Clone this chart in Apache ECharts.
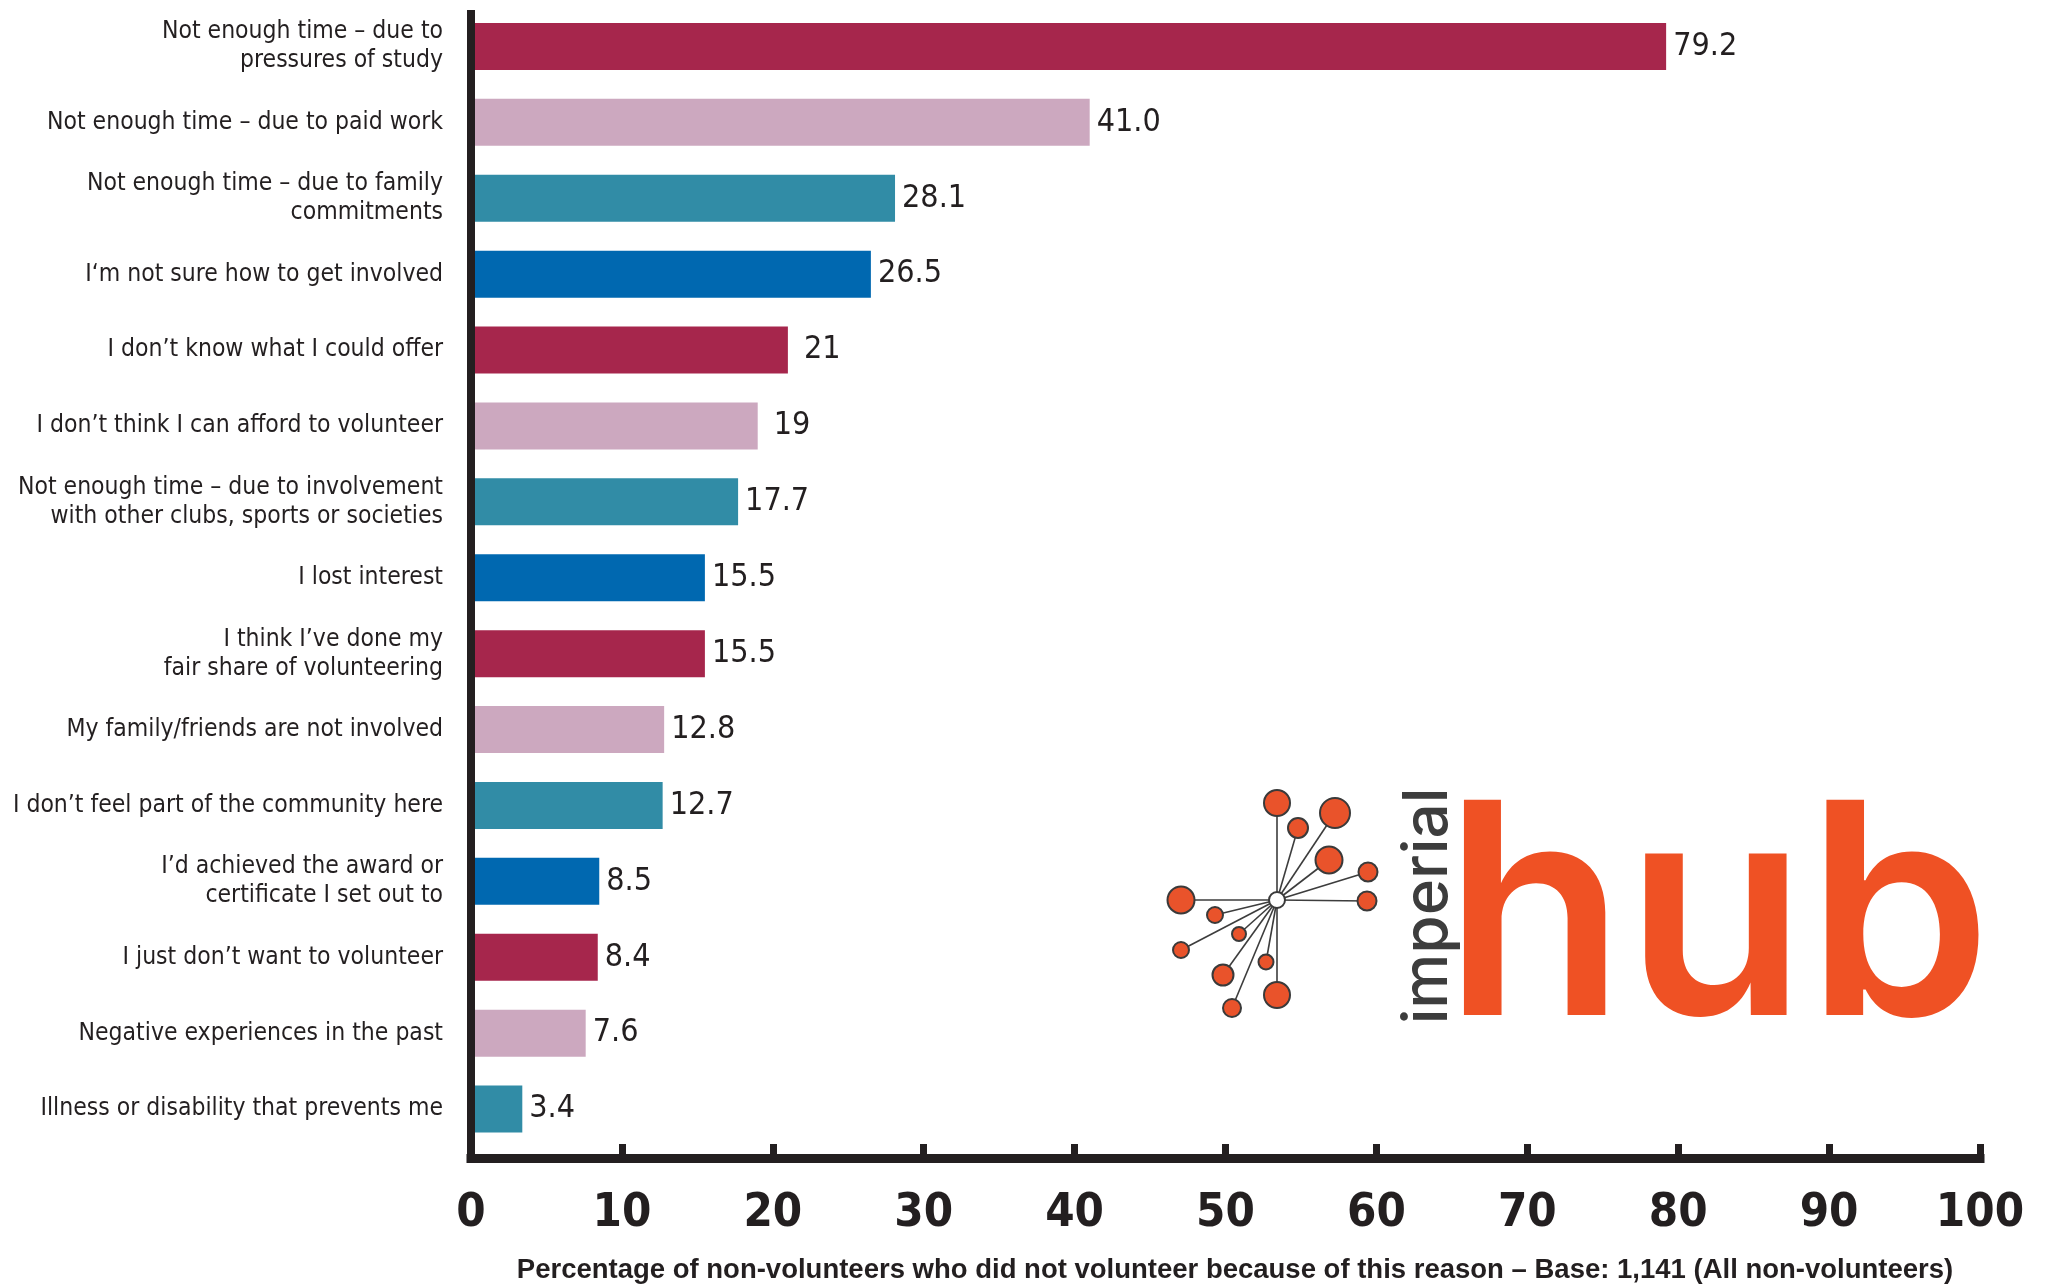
<!DOCTYPE html>
<html>
<head>
<meta charset="utf-8">
<script src="https://cdn.jsdelivr.net/npm/echarts@6/dist/echarts.min.js"></script>
<style>
html,body{margin:0;padding:0;background:#fff;}
#chart{width:2048px;height:1287px;}
</style>
</head>
<body>
<div id="chart"></div>
<script>
// ---- data ----
const categories = [
  'Not enough time – due to\npressures of study',
  'Not enough time – due to paid work',
  'Not enough time – due to family\ncommitments',
  'I‘m not sure how to get involved',
  'I don’t know what I could offer',
  'I don’t think I can afford to volunteer',
  'Not enough time – due to involvement\nwith other clubs, sports or societies',
  'I lost interest',
  'I think I’ve done my\nfair share of volunteering',
  'My family/friends are not involved',
  'I don’t feel part of the community here',
  'I’d achieved the award or\ncertificate I set out to',
  'I just don’t want to volunteer',
  'Negative experiences in the past',
  'Illness or disability that prevents me'
];
const values = [79.2, 41.0, 28.1, 26.5, 21, 19, 17.7, 15.5, 15.5, 12.8, 12.7, 8.5, 8.4, 7.6, 3.4];
const valueLabels = ['79.2', '41.0', '28.1', '26.5', '21', '19', '17.7', '15.5', '15.5', '12.8', '12.7', '8.5', '8.4', '7.6', '3.4'];
const xTicks = [0, 10, 20, 30, 40, 50, 60, 70, 80, 90, 100];
const axisTitle = 'Percentage of non-volunteers who did not volunteer because of this reason – Base: 1,141 (All non-volunteers)';

// ---- styles ----
const palette = ['#A6264C', '#CCA8BF', '#318CA6', '#0068B0'];
const ink = '#231F20';
const narrow = "'Liberation Sans Narrow', 'DejaVu Sans Condensed', 'Roboto Condensed', 'Liberation Sans', sans-serif";

const GL = 471, GW = 1509;

// logo geometry (decorative)
const hubCenter = [1277, 900];
const hubDots = [
  [1277, 803, 13], [1335, 813, 15], [1298, 828, 10], [1329, 860, 13.5],
  [1368, 872, 9.5], [1367, 901, 9.5], [1181, 900, 13.5], [1215, 915, 8],
  [1239, 934, 7], [1181, 950, 8], [1223, 975, 10.5], [1266, 962, 7.5],
  [1232, 1008, 9], [1277, 995, 13]
];
const logoChildren = [];
hubDots.forEach(d => logoChildren.push({
  type: 'line', shape: {x1: hubCenter[0], y1: hubCenter[1], x2: d[0], y2: d[1]},
  style: {stroke: '#3d3d3d', lineWidth: 1.6}
}));
hubDots.forEach(d => logoChildren.push({
  type: 'circle', shape: {cx: d[0], cy: d[1], r: d[2]},
  style: {fill: '#E9532B', stroke: '#3a3a3a', lineWidth: 2}
}));
logoChildren.push({
  type: 'circle', shape: {cx: hubCenter[0], cy: hubCenter[1], r: 8},
  style: {fill: '#ffffff', stroke: '#3a3a3a', lineWidth: 2}
});
logoChildren.push({
  type: 'text', x: 1428, y: 906, rotation: Math.PI / 2,
  style: {text: 'imperial', fontFamily: 'Inter', fontSize: 62, fontWeight: 500,
          fill: '#3d3d3d', align: 'center', verticalAlign: 'middle'}
});
logoChildren.push({
  type: 'text', x: 1444, y: 1074,
  style: {text: 'hub', fontFamily: 'Inter', fontSize: 296, fontWeight: 600,
          fill: '#EF5124', align: 'left', verticalAlign: 'bottom'}
});

const chart = echarts.init(document.getElementById('chart'));
chart.setOption({
  backgroundColor: '#ffffff',
  animation: false,
  grid: [
    {left: GL, width: GW, top: 8.5, height: 1138.5, outerBoundsMode: 'none', containLabel: false},
    {left: GL, width: GW, top: 14, height: 1144.5, outerBoundsMode: 'none', containLabel: false}
  ],
  xAxis: [
    {gridIndex: 0, type: 'value', min: 0, max: 100, interval: 10, show: false, splitLine: {show: false}},
    {gridIndex: 1, type: 'value', min: 0, max: 100, interval: 10,
     splitLine: {show: false},
     axisLine: {show: true, lineStyle: {color: ink, width: 9, cap: 'square'}},
     axisTick: {show: true, inside: true, length: 14.5, lineStyle: {color: ink, width: 7}},
     axisLabel: {show: true, margin: 32, fontSize: 47, fontWeight: 'bold', fontFamily: narrow, color: ink,
                 formatter: v => xTicks.indexOf(v) >= 0 ? String(v) : ''},
     name: axisTitle, nameLocation: 'middle', nameGap: 98,
     nameTextStyle: {fontSize: 27.5, fontWeight: 'bold', fontFamily: "'Liberation Sans', sans-serif", color: ink,
                     padding: [0, 0, 0, 19]}
    }
  ],
  yAxis: [
    {gridIndex: 0, type: 'category', inverse: true, data: categories,
     axisLine: {show: false}, axisTick: {show: false}, splitLine: {show: false},
     axisLabel: {margin: 28, fontSize: 24.5, lineHeight: 29, fontFamily: narrow, color: ink, align: 'right'}
    },
    {gridIndex: 1, type: 'value', min: 0, max: 1, z: 5,
     axisLine: {show: true, lineStyle: {color: ink, width: 8, cap: 'square'}},
     axisTick: {show: false}, axisLabel: {show: false}, splitLine: {show: false}
    }
  ],
  series: [{
    type: 'bar', xAxisIndex: 0, yAxisIndex: 0, barWidth: 47,
    data: values.map((v, i) => ({
      value: v,
      itemStyle: {color: palette[i % palette.length]},
      label: {distance: valueLabels[i].indexOf('.') < 0 ? 16 : 7}
    })),
    label: {show: true, position: 'right', fontSize: 32, fontFamily: narrow, color: ink,
            formatter: p => valueLabels[p.dataIndex]}
  }],
  graphic: [{type: 'group', children: logoChildren}]
});
</script>
</body>
</html>
